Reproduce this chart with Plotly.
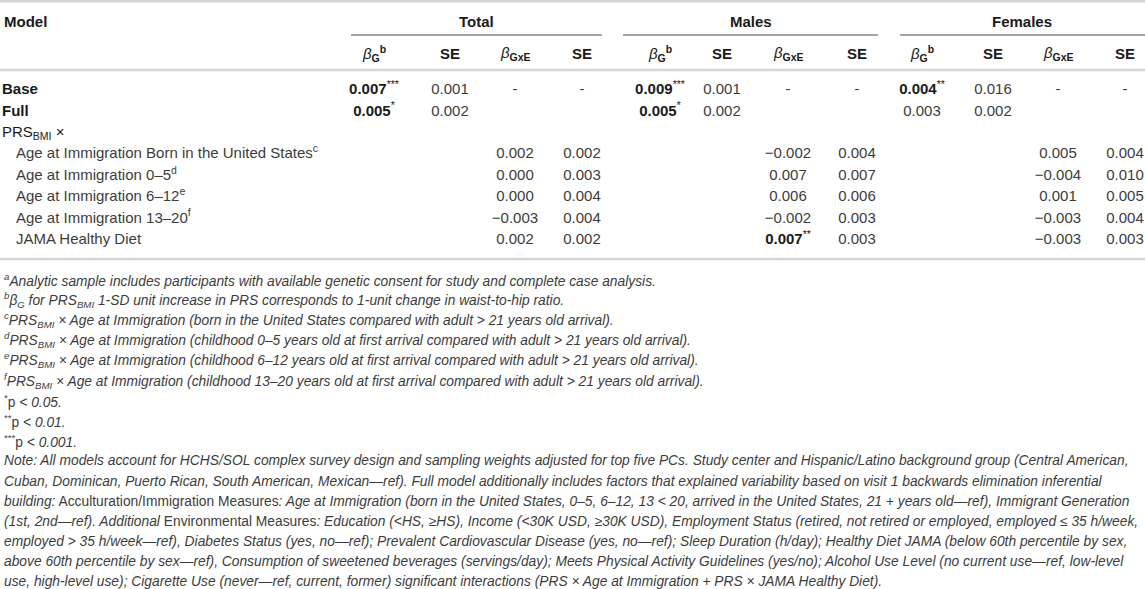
import plotly.graph_objects as go

# === Table content ===
groups = ["Total", "Males", "Females"]
sub_headers = [
    "<i>β</i><sub><b>G</b></sub><sup><b>b</b></sup>",
    "<b>SE</b>",
    "<i>β</i><sub><b>GxE</b></sub>",
    "<b>SE</b>",
]
row_labels = [
    "<b>Base</b>",
    "<b>Full</b>",
    "PRS<sub>BMI</sub> ×",
    "Age at Immigration Born in the United States<sup>c</sup>",
    "Age at Immigration 0–5<sup>d</sup>",
    "Age at Immigration 6–12<sup>e</sup>",
    "Age at Immigration 13–20<sup>f</sup>",
    "JAMA Healthy Diet",
]
row_level = [0, 0, 0, 1, 1, 1, 1, 1]

total_beta_g = ["0.007***", "0.005*", "", "", "", "", "", ""]
total_se_g = ["0.001", "0.002", "", "", "", "", "", ""]
total_beta_gxe = ["-", "", "", "0.002", "0.000", "0.000", "−0.003", "0.002"]
total_se_gxe = ["-", "", "", "0.002", "0.003", "0.004", "0.004", "0.002"]

males_beta_g = ["0.009***", "0.005*", "", "", "", "", "", ""]
males_se_g = ["0.001", "0.002", "", "", "", "", "", ""]
males_beta_gxe = ["-", "", "", "−0.002", "0.007", "0.006", "−0.002", "0.007**"]
males_se_gxe = ["-", "", "", "0.004", "0.007", "0.006", "0.003", "0.003"]

females_beta_g = ["0.004**", "0.003", "", "", "", "", "", ""]
females_se_g = ["0.016", "0.002", "", "", "", "", "", ""]
females_beta_gxe = ["-", "", "", "0.005", "−0.004", "0.001", "−0.003", "−0.003"]
females_se_gxe = ["-", "", "", "0.004", "0.010", "0.005", "0.004", "0.003"]

footnotes = [
    "<sup><i>a</i></sup><i>Analytic sample includes participants with available genetic consent for study and complete case analysis.</i>",
    "<sup><i>b</i></sup><i>β<sub>G</sub> for PRS<sub>BMI</sub> 1-SD unit increase in PRS corresponds to 1-unit change in waist-to-hip ratio.</i>",
    "<sup><i>c</i></sup><i>PRS<sub>BMI</sub> × Age at Immigration (born in the United States compared with adult &gt; 21 years old arrival).</i>",
    "<sup><i>d</i></sup><i>PRS<sub>BMI</sub> × Age at Immigration (childhood 0–5 years old at first arrival compared with adult &gt; 21 years old arrival).</i>",
    "<sup><i>e</i></sup><i>PRS<sub>BMI</sub> × Age at Immigration (childhood 6–12 years old at first arrival compared with adult &gt; 21 years old arrival).</i>",
    "<sup><i>f</i></sup><i>PRS<sub>BMI</sub> × Age at Immigration (childhood 13–20 years old at first arrival compared with adult &gt; 21 years old arrival).</i>",
    "<sup>*</sup>p <i>&lt; 0.05.</i>",
    "<sup>**</sup>p <i>&lt; 0.01.</i>",
    "<sup>***</sup>p <i>&lt; 0.001.</i>",
    "<i>Note: All models account for HCHS/SOL complex survey design and sampling weights adjusted for top five PCs. Study center and Hispanic/Latino background group (Central American,</i>",
    "<i>Cuban, Dominican, Puerto Rican, South American, Mexican—ref). Full model additionally includes factors that explained variability based on visit 1 backwards elimination inferential</i>",
    "<i>building:</i> Acculturation/Immigration Measures<i>: Age at Immigration (born in the United States, 0–5, 6–12, 13 &lt; 20, arrived in the United States, 21 + years old—ref), Immigrant Generation</i>",
    "<i>(1st, 2nd—ref). Additional</i> Environmental Measures<i>: Education (&lt;HS, ≥HS), Income (&lt;30K USD, ≥30K USD), Employment Status (retired, not retired or employed, employed ≤ 35 h/week,</i>",
    "<i>employed &gt; 35 h/week—ref), Diabetes Status (yes, no—ref); Prevalent Cardiovascular Disease (yes, no—ref); Sleep Duration (h/day); Healthy Diet JAMA (below 60th percentile by sex,</i>",
    "<i>above 60th percentile by sex—ref), Consumption of sweetened beverages (servings/day); Meets Physical Activity Guidelines (yes/no); Alcohol Use Level (no current use—ref, low-level</i>",
    "<i>use, high-level use); Cigarette Use (never—ref, current, former) significant interactions (PRS × Age at Immigration + PRS × JAMA Healthy Diet).</i>",
]

columns = [
    total_beta_g, total_se_g, total_beta_gxe, total_se_gxe,
    males_beta_g, males_se_g, males_beta_gxe, males_se_gxe,
    females_beta_g, females_se_g, females_beta_gxe, females_se_gxe,
]

# === Layout geometry (pixel units) ===
W, H = 1145, 589
col_x = [374, 450, 515, 582, 660, 722, 788, 857, 922, 993, 1058, 1125]
group_x = [476, 751, 1022]
group_rule = [(351, 602), (623, 878), (900, 1145)]
header_y, rule_y, sub_y, top_rule_y = 21, 35, 53, 70
row_y0, row_dy = 90.5, 21.4
bottom_rule_y = 259
fn_y0, fn_dy = 280, 20.1

FONT = "Liberation Sans, Arial, Helvetica, sans-serif"
DARK = "#1a1a1a"
BODY = "#3c3c3c"
RULE = "#d6d6d6"

row_y = [row_y0 + i * row_dy for i in range(len(row_labels))]


def fmt(v):
    if "*" in v:
        num = v.rstrip("*")
        return f"<b>{num}</b><sup>{v[len(num):]}</sup>"
    return v


fig = go.Figure()

# row labels
fig.add_trace(go.Scatter(
    x=[2 if lvl == 0 else 16 for lvl in row_level],
    y=row_y,
    text=row_labels,
    mode="text",
    textposition="middle right",
    textfont=dict(family=FONT, size=15, color=[DARK if lvl == 0 else BODY for lvl in row_level]),
    cliponaxis=False,
    hoverinfo="skip",
    showlegend=False,
))

# value columns
for cx, vals in zip(col_x, columns):
    fig.add_trace(go.Scatter(
        x=[cx] * len(vals),
        y=row_y,
        text=[fmt(v) for v in vals],
        mode="text",
        textposition="middle center",
        textfont=dict(family=FONT, size=15,
                      color=[DARK if "*" in v else BODY for v in vals]),
        cliponaxis=False,
        hoverinfo="skip",
        showlegend=False,
    ))

annotations = [dict(x=2, y=header_y, text="<b>Model</b>", xanchor="left")]
for gx, g in zip(group_x, groups):
    annotations.append(dict(x=gx, y=header_y, text=f"<b>{g}</b>", xanchor="center"))
for i, cx in enumerate(col_x):
    annotations.append(dict(x=cx, y=sub_y, text=sub_headers[i % 4], xanchor="center"))
for i, line in enumerate(footnotes):
    annotations.append(dict(x=2, y=fn_y0 + i * fn_dy, text=line, xanchor="left",
                            font=dict(family=FONT, size=13.8, color=BODY)))
for a in annotations:
    a.setdefault("font", dict(family=FONT, size=15, color=DARK))
    a.update(xref="x", yref="y", yanchor="middle", showarrow=False, align="left")

shapes = [
    dict(type="line", x0=0, x1=W, y0=1.2, y1=1.2, line=dict(color=RULE, width=2.5)),
    dict(type="line", x0=0, x1=W, y0=top_rule_y, y1=top_rule_y, line=dict(color=RULE, width=2.5)),
    dict(type="line", x0=0, x1=W, y0=bottom_rule_y, y1=bottom_rule_y, line=dict(color=RULE, width=2.5)),
]
for x0, x1 in group_rule:
    shapes.append(dict(type="line", x0=x0, x1=x1, y0=rule_y, y1=rule_y,
                       line=dict(color="#4a4a4a", width=1.2)))
for s in shapes:
    s.update(xref="x", yref="y")

fig.update_layout(
    width=W, height=H,
    margin=dict(l=0, r=0, t=0, b=0),
    paper_bgcolor="white", plot_bgcolor="white",
    xaxis=dict(range=[0, W], visible=False, fixedrange=True),
    yaxis=dict(range=[H, 0], visible=False, fixedrange=True),
    annotations=annotations,
    shapes=shapes,
)

# drop the default 8px page margin so the figure fills the window exactly
fig.write_html(
    "out.html",
    config={"displayModeBar": False},
    post_script="document.body.style.margin='0';document.body.style.overflow='hidden';",
)
